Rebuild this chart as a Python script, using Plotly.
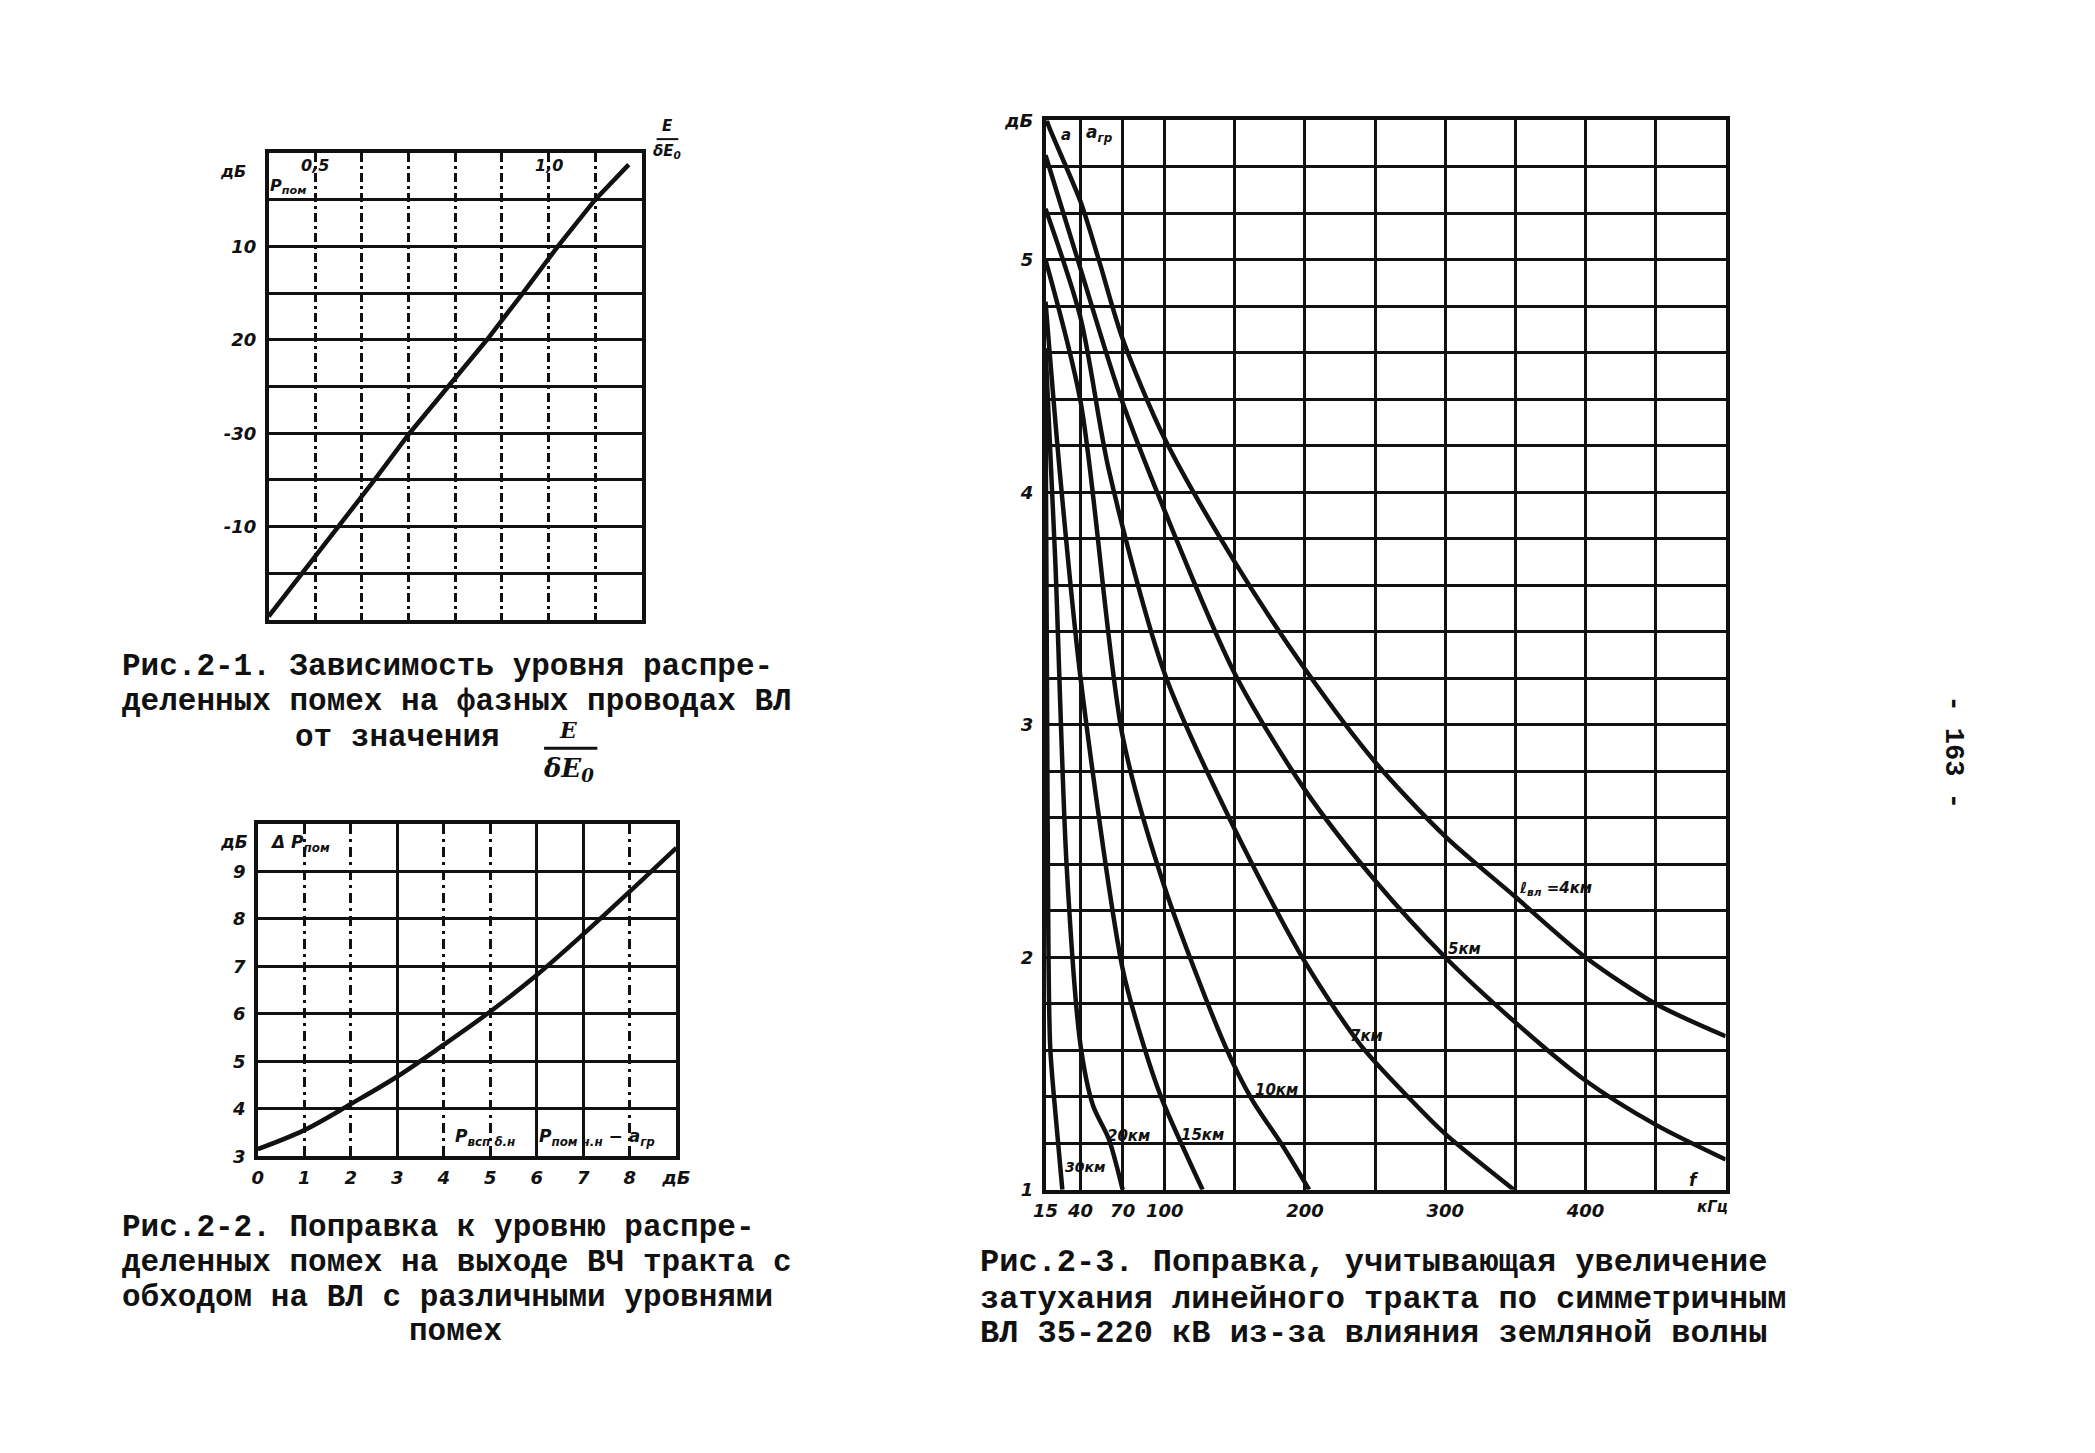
import plotly.graph_objects as go

W, H = 2095, 1453

# ---------------- Fig. 2-1 data ----------------
f1_x = [0.40, 0.472, 0.55, 0.627, 0.702, 0.785, 0.868, 0.945, 1.02, 1.10, 1.172]
f1_y = [-49.6, -45, -40, -35, -30, -25, -20, -15, -10, -5, -1.25]
f1_xgrid = [0.4, 0.5, 0.6, 0.7, 0.8, 0.9, 1.0, 1.1, 1.2]
f1_yticks = [-40, -30, -20, -10]
f1_ylabels = ["-10", "-30", "20", "10"]
f1_toplabels = {0.5: "0,5", 1.0: "1,0"}

# ---------------- Fig. 2-2 data ----------------
f2_x = [0, 1, 2, 3, 4, 5, 6, 7, 8, 9]
f2_y = [3.15, 3.55, 4.1, 4.68, 5.35, 6.05, 6.82, 7.68, 8.58, 9.5]
f2_xticks = [0, 1, 2, 3, 4, 5, 6, 7, 8, 9]
f2_xlabels = ["0", "1", "2", "3", "4", "5", "6", "7", "8", "дБ"]
f2_solid_x = [3, 6, 7]
f2_dash_x = [1, 2, 4, 5, 8]
f2_yticks = [3, 4, 5, 6, 7, 8, 9]
f2_ylabels = ["3", "4", "5", "6", "7", "8", "9"]

# ---------------- Fig. 2-3 data ----------------
f3_4_x = [15, 17, 40, 53, 70, 100, 150, 200, 250, 300, 350, 400, 450, 500]
f3_4_y = [5.62, 5.58, 5.25, 5.0, 4.66, 4.23, 3.70, 3.24, 2.84, 2.52, 2.26, 2.0, 1.8, 1.66]
f3_5_x = [15, 38, 68, 100, 150, 200, 250, 300, 350, 400, 450, 500]
f3_5_y = [5.45, 5.0, 4.42, 3.92, 3.22, 2.72, 2.33, 2.0, 1.72, 1.47, 1.28, 1.13]
f3_7_x = [15, 40, 60, 100, 150, 200, 240, 275, 300, 349]
f3_7_y = [5.22, 4.75, 4.1, 3.22, 2.55, 1.98, 1.62, 1.39, 1.24, 1.0]
f3_10_x = [15, 40, 70, 100, 143, 162, 184, 203]
f3_10_y = [5.0, 4.39, 2.95, 2.3, 1.62, 1.39, 1.19, 1.0]
f3_15_x = [15, 25, 40, 70, 85, 98, 127]
f3_15_y = [4.82, 4.1, 3.2, 1.95, 1.62, 1.39, 1.0]
f3_20_x = [15, 22, 30, 40, 49, 60, 70]
f3_20_y = [4.62, 3.7, 2.4, 1.62, 1.36, 1.22, 1.0]
f3_30_x = [15, 16.5, 18.3, 22.5, 27]
f3_30_y = [4.45, 2.6, 1.62, 1.3, 1.0]
f3_xticks = [15, 40, 70, 100, 200, 300, 400]
f3_xlabels = ["15", "40", "70", "100", "200", "300", "400"]
f3_xminor = [150, 250, 350, 450]
f3_yticks = [1, 2, 3, 4, 5, 5.6]
f3_ylabels = ["1", "2", "3", "4", "5", "дБ"]

# ---------------- layout helpers ----------------
def dom_x(a, b):
    return [a / W, b / W]

def dom_y(top, bot):
    return [1 - bot / H, 1 - top / H]

BLK = "#111111"
tickfont = dict(family="DejaVu Sans", size=18, color=BLK, weight="bold", style="italic")
fig = go.Figure()

LW = 4.5
fig.add_trace(go.Scatter(x=f1_x, y=f1_y, mode="lines", line=dict(color=BLK, width=LW),
                         xaxis="x", yaxis="y", showlegend=False))
fig.add_trace(go.Scatter(x=f2_x, y=f2_y, mode="lines", line=dict(color=BLK, width=LW, shape="spline"),
                         xaxis="x2", yaxis="y2", showlegend=False))
fig.add_trace(go.Scatter(x=[], y=[], mode="lines", xaxis="x4", yaxis="y2", showlegend=False))
for xs, ys in [(f3_4_x, f3_4_y), (f3_5_x, f3_5_y), (f3_7_x, f3_7_y), (f3_10_x, f3_10_y),
               (f3_15_x, f3_15_y), (f3_20_x, f3_20_y), (f3_30_x, f3_30_y)]:
    fig.add_trace(go.Scatter(x=xs, y=ys, mode="lines", line=dict(color=BLK, width=LW, shape="spline", smoothing=0.8),
                             xaxis="x3", yaxis="y3", showlegend=False))

GW = 2.5
frame = dict(showline=True, mirror=True, linecolor=BLK, linewidth=3.5, ticks="",
             showgrid=True, gridcolor=BLK, gridwidth=GW, zeroline=False, tickfont=tickfont)

fig.update_layout(
    width=W, height=H, margin=dict(l=0, r=0, t=0, b=0),
    paper_bgcolor="white", plot_bgcolor="white",
    xaxis=dict(frame, domain=dom_x(259, 637), range=[0.4, 1.2], anchor="y",
               tickvals=f1_xgrid, showticklabels=False, griddash="9px,4px,3px,4px"),
    yaxis=dict(frame, domain=dom_y(144, 618), range=[-50, 0], anchor="x",
               tickvals=f1_yticks, ticktext=f1_ylabels, ticklabelstandoff=5,
               minor=dict(dtick=5, tick0=0, showgrid=True, gridcolor=BLK, gridwidth=GW, ticks="")),
    xaxis2=dict(frame, domain=dom_x(248, 672), range=[0, 9], anchor="y2",
                tickvals=f2_xticks, ticktext=f2_xlabels, ticklabelstandoff=2, showgrid=False,
                minor=dict(tickvals=f2_solid_x, showgrid=True, gridcolor=BLK, gridwidth=GW, ticks="")),
    xaxis4=dict(domain=dom_x(248, 672), range=[0, 9], overlaying="x2", anchor="y2",
                tickvals=f2_dash_x, showticklabels=False, ticks="", showline=False, zeroline=False,
                showgrid=True, gridcolor=BLK, gridwidth=GW, griddash="10px,5px,3px,5px"),
    yaxis2=dict(frame, domain=dom_y(825, 1162), range=[3, 10], anchor="x2",
                tickvals=f2_yticks, ticktext=f2_ylabels, ticklabelstandoff=5,
                minor=dict(dtick=1, tick0=3, showgrid=True, gridcolor=BLK, gridwidth=GW, ticks="")),
    xaxis3=dict(frame, domain=dom_x(1046, 1735), range=[15, 500], anchor="y3",
                tickvals=f3_xticks, ticktext=f3_xlabels, ticklabelstandoff=2,
                minor=dict(tickvals=f3_xminor, showgrid=True, gridcolor=BLK, gridwidth=GW, ticks="")),
    yaxis3=dict(frame, domain=dom_y(111, 1196), range=[1, 5.6], anchor="x3",
                tickvals=f3_yticks, ticktext=f3_ylabels, ticklabelstandoff=5,
                minor=dict(dtick=0.2, tick0=1, showgrid=True, gridcolor=BLK, gridwidth=GW, ticks="")),
)

ann = []
shapes = []
lab = dict(family="DejaVu Sans", size=17, color=BLK, weight="bold", style="italic")

def txt(x, y, t, size=17, xanchor="left", font=None, **kw):
    f = dict(lab) if font is None else dict(font)
    f["size"] = size
    ann.append(dict(x=x / W, y=1 - y / H, xref="paper", yref="paper", text=t, showarrow=False,
                    xanchor=xanchor, yanchor="middle", font=f, **kw))

def bar(x0, x1, y, w=2.5):
    shapes.append(dict(type="line", xref="paper", yref="paper", x0=x0 / W, x1=x1 / W,
                       y0=1 - y / H, y1=1 - y / H, line=dict(color=BLK, width=w)))

# Fig 2-1 labels
txt(208, 163, "дБ", 16)
txt(258, 178, "P<sub>пом</sub>", 16)
for xv, t in f1_toplabels.items():
    ann.append(dict(x=xv, y=1 - 157 / H, xref="x", yref="paper", text=t, showarrow=False,
                    xanchor="center", yanchor="middle", font=dict(lab, size=16)))
txt(663, 117, "E", 15, "center")
bar(652, 674, 130, 2)
txt(663, 143, "δE<sub>0</sub>", 15, "center")

# Fig 2-2 labels
txt(240, 843, "дБ", 17, "right")
txt(258, 845, "Δ P<sub>пом</sub>", 17)
txt(446, 1143, "P<sub>всп δ.н</sub>    P<sub>пом ч.н</sub> − a<sub>гр</sub>", 17)

# Fig 2-3 labels
txt(1060, 126, "a", 15)
txt(1085, 124, "a<sub>гр</sub>", 17)
txt(1524, 890, "ℓ<sub>вл</sub> =4км", 15)
txt(1452, 952, "5км", 15)
txt(1352, 1040, "7км", 15)
txt(1256, 1095, "10км", 15)
txt(1181, 1140, "15км", 15)
txt(1106, 1142, "20км", 15)
txt(1064, 1173, "30км", 14)
txt(1703, 1186, "f", 17, "center")
txt(1722, 1214, "кГц", 15, "center")

# Captions
cap = dict(family="Liberation Mono", size=31, color=BLK, weight="bold")
txt(108, 665, "Рис.2-1. Зависимость уровня распре-", 31, font=cap)
txt(108, 701, "деленных помех на фазных проводах ВЛ", 31, font=cap)
txt(284, 737, "от значения", 31, font=cap)
serif = dict(family="DejaVu Serif", size=26, color=BLK, style="italic", weight="bold")
txt(563, 730, "E", 22, "center", font=serif)
bar(538, 592, 748, 3)
txt(563, 770, "δE<sub>0</sub>", 26, "center", font=serif)

txt(108, 1234, "Рис.2-2. Поправка к уровню распре-", 31, font=cap)
txt(108, 1270, "деленных помех на выходе ВЧ тракта с", 31, font=cap)
txt(108, 1305, "обходом на ВЛ с различными уровнями", 31, font=cap)
txt(448, 1340, "помех", 31, "center", font=cap)

cap3 = dict(cap, size=32)
txt(978, 1270, "Рис.2-3. Поправка, учитывающая увеличение", 32, font=cap3)
txt(978, 1307, "затухания линейного тракта по симметричным", 32, font=cap3)
txt(978, 1342, "ВЛ 35-220 кВ из-за влияния земляной волны", 32, font=cap3)

# page number (rotated)
ann.append(dict(x=1965 / W, y=1 - 752 / H, xref="paper", yref="paper", text="- 163 -", showarrow=False,
                textangle=90, xanchor="center", yanchor="middle", font=dict(cap, size=27)))

fig.update_layout(annotations=ann, shapes=shapes)
fig.write_html("out.html")
